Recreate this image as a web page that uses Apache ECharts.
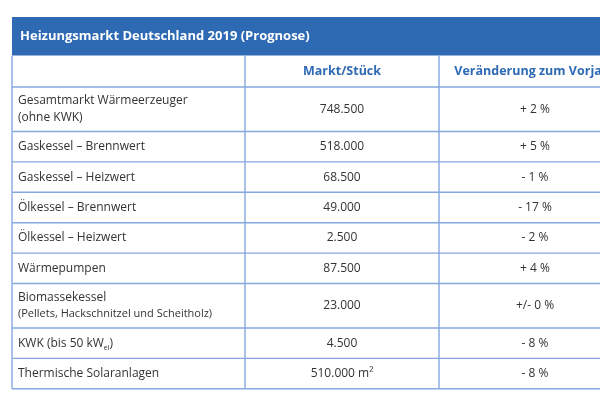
<!DOCTYPE html>
<html>
<head>
<meta charset="utf-8">
<script src="https://cdn.jsdelivr.net/npm/echarts@6/dist/echarts.min.js"></script>
<style>html,body{margin:0;padding:0;background:#fff}#c{width:600px;height:400px}</style>
</head>
<body>
<div id="c"></div>
<script>
// ---- data ----
const title = 'Heizungsmarkt Deutschland 2019 (Prognose)';
const headers = ['', 'Markt/Stück', 'Veränderung zum Vorjahr'];
const categories = [
  'Gesamtmarkt Wärmeerzeuger\n(ohne KWK)',
  'Gaskessel – Brennwert',
  'Gaskessel – Heizwert',
  'Ölkessel – Brennwert',
  'Ölkessel – Heizwert',
  'Wärmepumpen',
  'Biomassekessel\n(Pellets, Hackschnitzel und Scheitholz)',
  'KWK (bis 50 kWel)',
  'Thermische Solaranlagen'
];
const marketValues = [748500, 518000, 68500, 49000, 2500, 87500, 23000, 4500, 510000];
const marketUnits = ['', '', '', '', '', '', '', '', ' m²'];
const changes = [2, 5, -1, -17, -2, 4, 0, -8, -8];

// ---- helpers ----
const fmtNum = v => String(v).replace(/\B(?=(\d{3})+(?!\d))/g, '.');
const fmtChange = v => v > 0 ? '+ ' + v + ' %' : (v < 0 ? '- ' + Math.abs(v) + ' %' : '+/- 0 %');

const FONT = '"Open Sans", "Noto Sans", sans-serif';
const BLUE = '#2e6ab4';
const LINE = '#86a7df';
const TEXT = '#333333';
const colX = [0, 233, 427, 619];
const visibleW = 588;
const titleH = 38.5, headH = 31.5, oneH = 30.4, twoH = 44.5;

// row layout (y ranges in axis units)
const rows = [];
let y = 0;
rows.push({kind: 'title', y0: y, y1: y + titleH}); y += titleH;
rows.push({kind: 'head', y0: y, y1: y + headH}); y += headH;
categories.forEach((c, i) => {
  const h = c.indexOf('\n') >= 0 ? twoH : oneH;
  rows.push({kind: 'row', i: i, y0: y, y1: y + h});
  y += h;
});
const totalH = y;

function renderItem(params, api) {
  const r = rows[params.dataIndex];
  const p0 = api.coord([colX[0], r.y0]);
  const p1 = api.coord([colX[3], r.y1]);
  const cx = k => api.coord([colX[k], 0])[0];
  const yMid = (p0[1] + p1[1]) / 2;
  const children = [];
  if (r.kind === 'title') {
    children.push({type: 'rect', shape: {x: p0[0], y: p0[1], width: p1[0] - p0[0], height: p1[1] - p0[1]}, style: {fill: BLUE}});
    children.push({type: 'text', style: {text: title, x: p0[0] + 8, y: yMid, verticalAlign: 'middle', align: 'left',
      fill: '#ffffff', font: 'bold 13px ' + FONT}});
    return {type: 'group', children};
  }
  const lw = 1.4;
  [0, 1, 2, 3].forEach(k => {
    const x = cx(k);
    children.push({type: 'line', shape: {x1: x, y1: p0[1], x2: x, y2: p1[1]}, style: {stroke: LINE, lineWidth: lw}});
  });
  children.push({type: 'line', shape: {x1: p0[0], y1: p1[1], x2: p1[0], y2: p1[1]}, style: {stroke: LINE, lineWidth: lw}});
  const c1 = (cx(1) + cx(2)) / 2, c2 = (cx(2) + cx(3)) / 2;
  if (r.kind === 'head') {
    children.push({type: 'text', style: {text: headers[1], x: c1, y: yMid, align: 'center', verticalAlign: 'middle', fill: BLUE, font: 'bold 12.5px ' + FONT}});
    children.push({type: 'text', style: {text: headers[2], x: c2, y: yMid, align: 'center', verticalAlign: 'middle', fill: BLUE, font: 'bold 12.5px ' + FONT}});
    return {type: 'group', children};
  }
  const i = r.i;
  let label = categories[i].replace('kWel', 'kW{sub|el}');
  const parts = label.split('\n');
  if (parts.length > 1 && parts[1].length > 20) label = parts[0] + '\n{small|' + parts[1] + '}';
  children.push({type: 'text', style: {text: label, x: p0[0] + 6, y: yMid, align: 'left', verticalAlign: 'middle',
    fill: TEXT, fontSize: 12, fontFamily: FONT, lineHeight: 17,
    rich: {sub: {fontSize: 7, fontFamily: FONT, fill: TEXT, verticalAlign: 'bottom', lineHeight: 17, padding: [7, 0, 0, 0]},
           small: {fontSize: 11, fontFamily: FONT, fill: TEXT, lineHeight: 17}}}});
  children.push({type: 'text', style: {text: fmtNum(marketValues[i]) + marketUnits[i], x: c1, y: yMid, align: 'center', verticalAlign: 'middle', fill: TEXT, fontSize: 12, fontFamily: FONT}});
  children.push({type: 'text', style: {text: fmtChange(changes[i]), x: c2, y: yMid, align: 'center', verticalAlign: 'middle', fill: TEXT, fontSize: 12, fontFamily: FONT}});
  return {type: 'group', children};
}

const chart = echarts.init(document.getElementById('c'), null, {renderer: 'canvas'});
chart.setOption({
  animation: false,
  grid: {left: 12, top: 17, right: 0, height: totalH, containLabel: false},
  xAxis: {type: 'value', min: 0, max: visibleW, show: false},
  yAxis: {type: 'value', min: 0, max: totalH, inverse: true, show: false},
  series: [{
    type: 'custom',
    renderItem: renderItem,
    clip: false,
    data: rows.map((r, k) => k),
    silent: true
  }]
});
</script>
</body>
</html>
